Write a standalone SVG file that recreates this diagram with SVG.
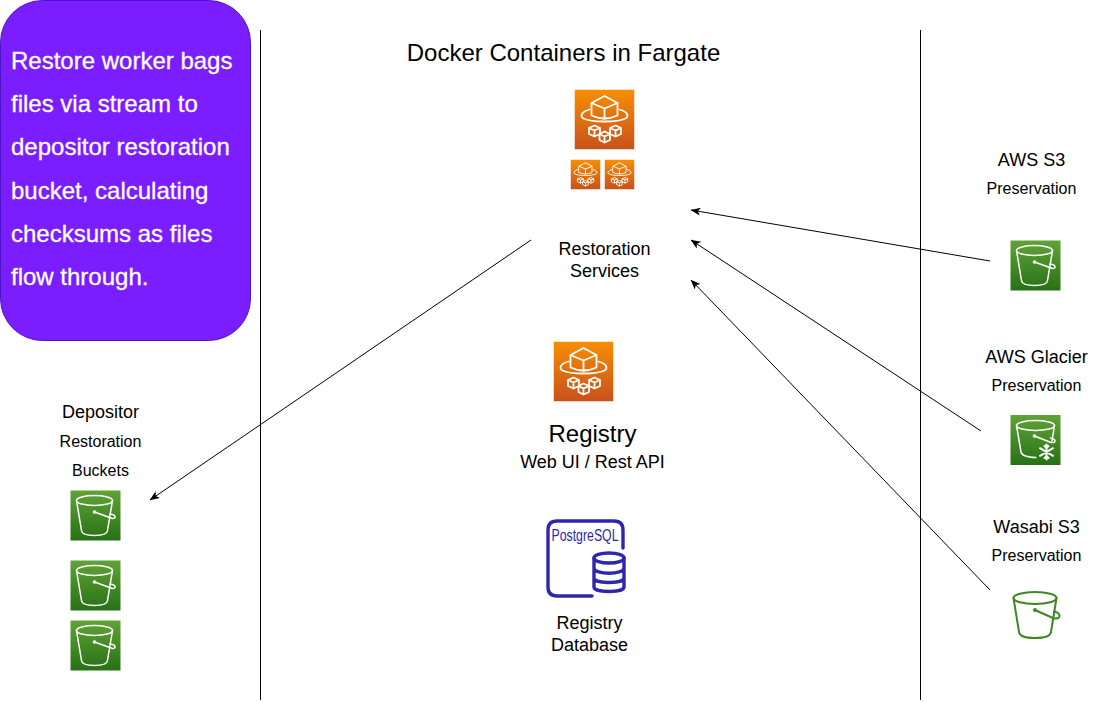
<svg xmlns="http://www.w3.org/2000/svg" xmlns:xlink="http://www.w3.org/1999/xlink" width="1097" height="702" viewBox="0 0 1097 702">
<style>
text{font-family:"Liberation Sans",Arial,Helvetica,sans-serif;fill:#000;text-anchor:middle}
.s18{font-size:18px}.s16{font-size:16px}.s24{font-size:24px}
.w{fill:none;stroke:#fff;stroke-linejoin:round;stroke-linecap:round}
.conn{fill:none;stroke:#000;stroke-width:1}
.pg{fill:none;stroke:#2e27ad;stroke-width:3.4;stroke-linecap:round}
.note{font-size:24px;fill:#fff;stroke:#fff;stroke-width:.3;text-anchor:start}
</style>
<defs>
<linearGradient id="gG" x1="0" y1="1" x2="0" y2="0"><stop offset="0" stop-color="#277116"/><stop offset="1" stop-color="#60a337"/></linearGradient>
<linearGradient id="oG" x1="0" y1="1" x2="0" y2="0"><stop offset="0" stop-color="#c8511b"/><stop offset="1" stop-color="#f78e04"/></linearGradient>
<marker id="arr" viewBox="0 0 10 8" refX="9.500" refY="4" markerWidth="10" markerHeight="8" markerUnits="userSpaceOnUse" orient="auto"><path d="M0 0L10 4L0 8L2.500 4Z" fill="#000"/></marker>
<g id="bucketShape">
<ellipse cx="24" cy="10" rx="18" ry="5"/>
<path d="M6 10L11 40Q11.500 45 24 45Q36.500 45 37 40L42 10"/>
<path d="M24 21.500L42 28Q45 28 44.500 26Q44 24 39.500 23.500"/>
</g>
<symbol id="s3" viewBox="0 0 50 50" overflow="visible">
<rect width="50" height="50" fill="url(#gG)"/>
<use href="#bucketShape" class="w" stroke-width="1.500"/>
<circle cx="24" cy="21.500" r="1.800" fill="#fff"/>
</symbol>
<symbol id="fg" viewBox="0 0 60 60">
<rect width="60" height="60" fill="url(#oG)"/>
<g class="w" stroke-width="1.800">
<path d="M17 13.500L30 6.500L43 13.500V26Q30 32 17 26Z"/>
<path d="M17 13.500L30 19L43 13.500M30 19V29.500"/>
<path d="M15 20C7 22 5 27 9 29C17 33 43 33 51 29C55 27 53 22 45 20"/>
<path d="M14.500 38.500L20 36L25.500 38.500V44.500L20 47L14.500 44.500ZM14.500 38.500L20 41L25.500 38.500M20 41V47"/>
<path d="M25 44.500L30 42L35.500 44.500V50.500L30 53L25 50.500ZM25 44.500L30 47L35.500 44.500M30 47V53"/>
<path d="M35.500 38.500L41 36L46.500 38.500V44.500L41 47L35.500 44.500ZM35.500 38.500L41 41L46.500 38.500M41 41V47"/>
</g>
</symbol>
</defs>

<g id="note">
<rect x="0.500" y="0.500" width="250" height="340" rx="42" fill="#7a1dff" stroke="#4a14c4"/>
<text class="note" x="11" y="69">Restore worker bags</text>
<text class="note" x="11" y="112">files via stream to</text>
<text class="note" x="11" y="155">depositor restoration</text>
<text class="note" x="11" y="199">bucket, calculating</text>
<text class="note" x="11" y="242">checksums as files</text>
<text class="note" x="11" y="285">flow through.</text>
</g>

<g id="connectors">
<path class="conn" d="M260.500 30V700"/>
<path class="conn" d="M920.500 30V700"/>
<path class="conn" d="M990 261L691 210" marker-end="url(#arr)"/>
<path class="conn" d="M981 431L691 240" marker-end="url(#arr)"/>
<path class="conn" d="M990 590L691 280" marker-end="url(#arr)"/>
<path class="conn" d="M531 240L150 500" marker-end="url(#arr)"/>
</g>

<g id="title"><text class="s24" x="563.500" y="61">Docker Containers in Fargate</text></g>

<g id="restoration-services">
<use href="#fg" x="574.500" y="89.500" width="60" height="60"/>
<use href="#fg" x="570.500" y="159.500" width="30" height="30"/>
<use href="#fg" x="604.500" y="159.500" width="30" height="30"/>
<text class="s18" x="604.500" y="255">Restoration</text>
<text class="s18" x="604.500" y="277">Services</text>
</g>

<g id="registry">
<use href="#fg" x="553.500" y="341.500" width="60" height="60"/>
<text class="s24" x="592.500" y="442">Registry</text>
<text class="s18" x="592.500" y="467.500">Web UI / Rest API</text>
</g>

<g id="registry-database">
<path class="pg" d="M623 548V530Q623 521 614 521H557Q548 521 548 530V587Q548 596 557 596H592"/>
<text x="585" y="541" font-size="16" style="fill:#2e27ad" textLength="67" lengthAdjust="spacingAndGlyphs">PostgreSQL</text>
<ellipse class="pg" cx="609" cy="558" rx="15" ry="5"/>
<path class="pg" d="M594 558V587C594 593 624 593 624 587V558M594 568C594 575 624 575 624 568M594 578C594 584 624 584 624 578"/>
<text class="s18" x="589.500" y="629">Registry</text>
<text class="s18" x="589.500" y="651">Database</text>
</g>

<g id="depositor-buckets">
<text class="s18" x="100.500" y="418">Depositor</text>
<text class="s16" x="100.500" y="447">Restoration</text>
<text class="s16" x="100.500" y="476">Buckets</text>
<use href="#s3" x="70.500" y="490.500" width="50" height="50"/>
<use href="#s3" x="70.500" y="560.500" width="50" height="50"/>
<use href="#s3" x="70.500" y="620.500" width="50" height="50"/>
</g>

<g id="aws-s3">
<text class="s18" x="1031.500" y="166">AWS S3</text>
<text class="s16" x="1031.500" y="194">Preservation</text>
<use href="#s3" x="1010.500" y="240.500" width="50" height="50"/>
</g>

<g id="aws-glacier">
<text class="s18" x="1036.500" y="363">AWS Glacier</text>
<text class="s16" x="1036.500" y="391">Preservation</text>
<rect x="1010.500" y="415" width="50" height="50" fill="url(#gG)"/>
<g class="w" stroke-width="1.500">
<ellipse cx="1035.500" cy="425.500" rx="19" ry="5"/>
<path d="M1016.500 425.500L1021 452Q1022 457 1036 457.500M1054.500 425.500L1052 441"/>
<path d="M1034.500 436L1051 442.500Q1055 443 1055 441Q1055 439 1050.500 438"/>
<path stroke-width="2" d="M1046.500 444.500V459.500M1040 448.200L1053 455.800M1040 455.800L1053 448.200M1044.500 446L1046.500 448L1048.500 446M1044.500 458L1046.500 456L1048.500 458"/>
</g>
<circle cx="1034.500" cy="436" r="1.800" fill="#fff"/>
</g>

<g id="wasabi-s3">
<text class="s18" x="1036.500" y="533">Wasabi S3</text>
<text class="s16" x="1036.500" y="561">Preservation</text>
<g fill="none" stroke="#3f8624" stroke-width="2" stroke-linecap="round" stroke-linejoin="round">
<ellipse cx="1035" cy="598" rx="21.500" ry="6"/>
<path d="M1013.500 598L1019 632Q1020 638 1035 638Q1050 638 1051 632L1056.500 598"/>
<path d="M1035 610L1054 618.500Q1060 619 1059.500 615.500Q1059 612.500 1054 611.500"/>
</g>
<circle cx="1035" cy="610" r="2" fill="#3f8624"/>
</g>
</svg>
